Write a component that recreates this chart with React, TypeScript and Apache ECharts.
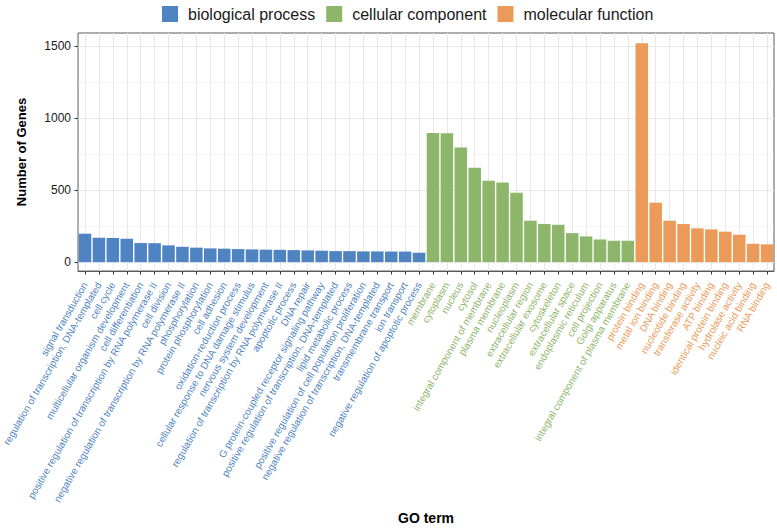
import React, { useEffect, useRef } from "react";
import * as echarts from "echarts";

const bpTerms = [
  "signal transduction",
  "regulation of transcription, DNA-templated",
  "cell cycle",
  "multicellular organism development",
  "cell differentiation",
  "positive regulation of transcription by RNA polymerase II",
  "cell division",
  "negative regulation of transcription by RNA polymerase II",
  "phosphorylation",
  "protein phosphorylation",
  "cell adhesion",
  "oxidation-reduction process",
  "cellular response to DNA damage stimulus",
  "nervous system development",
  "regulation of transcription by RNA polymerase II",
  "apoptotic process",
  "DNA repair",
  "G protein-coupled receptor signaling pathway",
  "positive regulation of transcription, DNA-templated",
  "lipid metabolic process",
  "positive regulation of cell population proliferation",
  "negative regulation of transcription, DNA-templated",
  "transmembrane transport",
  "ion transport",
  "negative regulation of apoptotic process",
];
const bpCounts = [197, 169, 167, 162, 132, 131, 116, 106, 100, 95, 93, 90, 88, 86, 85, 83, 81, 79, 76, 76, 74, 74, 73, 73, 65];

const ccTerms = [
  "membrane",
  "cytoplasm",
  "nucleus",
  "cytosol",
  "integral component of membrane",
  "plasma membrane",
  "nucleoplasm",
  "extracellular region",
  "extracellular exosome",
  "cytoskeleton",
  "extracellular space",
  "endoplasmic reticulum",
  "cell projection",
  "Golgi apparatus",
  "integral component of plasma membrane",
];
const ccCounts = [896, 895, 796, 655, 565, 553, 481, 287, 264, 259, 201, 178, 157, 148, 148];

const mfTerms = [
  "protein binding",
  "metal ion binding",
  "DNA binding",
  "nucleotide binding",
  "transferase activity",
  "ATP binding",
  "identical protein binding",
  "hydrolase activity",
  "nucleic acid binding",
  "RNA binding",
];
const mfCounts = [1518, 412, 287, 264, 234, 227, 211, 190, 127, 123];

const groupNames = ["biological process", "cellular component", "molecular function"];
const groupColors = ["#4F84C2", "#8DB66A", "#EC9A59"];

const yTicks = [0, 500, 1000, 1500];
const yMinorTicks = [250, 750, 1250];

const FONT = "Liberation Sans, Arial, sans-serif";

export default function App() {
  const ref = useRef<HTMLDivElement>(null);

  useEffect(() => {
    if (!ref.current) return;
    const chart = echarts.init(ref.current, undefined, { renderer: "svg" });

    const categories = [...bpTerms, ...ccTerms, ...mfTerms];
    const groupOf = [
      ...bpTerms.map(() => 0),
      ...ccTerms.map(() => 1),
      ...mfTerms.map(() => 2),
    ];
    const groupData = [bpCounts, ccCounts, mfCounts];
    const offsets = [0, bpTerms.length, bpTerms.length + ccTerms.length];

    const barSeries = groupNames.map((name, g) => {
      const data: (number | string)[] = categories.map(() => "-");
      groupData[g].forEach((v, i) => {
        data[offsets[g] + i] = v;
      });
      return {
        name,
        type: "bar",
        stack: "all",
        data,
        barCategoryGap: "10%",
        itemStyle: { color: groupColors[g] },
        z: 5,
      };
    });

    const gridLine = { color: "#E8E8E8", width: 1, type: "solid" };
    const minorLine = { color: "#F2F2F2", width: 0.6, type: "solid" };

    const option: any = {
      animation: false,
      textStyle: { fontFamily: FONT },
      legend: {
        data: groupNames,
        top: 1,
        left: 157,
        itemWidth: 16,
        itemHeight: 16,
        itemGap: 11,
        icon: "rect",
        textStyle: { fontSize: 16, color: "#1a1a1a", fontFamily: FONT, padding: [0, 0, 0, 5] },
      },
      grid: {
        left: 77,
        right: 3,
        top: 33,
        bottom: 261,
        show: true,
        borderColor: "#5a5a5a",
        borderWidth: 1,
        backgroundColor: "transparent",
      },
      xAxis: {
        type: "category",
        data: categories,
        boundaryGap: true,
        name: "GO term",
        nameLocation: "middle",
        nameGap: 240,
        nameTextStyle: { fontSize: 14, fontWeight: "bold", color: "#000", fontFamily: FONT },
        axisLine: { show: true, onZero: false, lineStyle: { color: "#5a5a5a", width: 1 } },
        axisTick: { show: true, alignWithLabel: true, interval: 0, length: 3.5, lineStyle: { color: "#333" } },
        axisLabel: {
          interval: 0,
          rotate: 60,
          fontSize: 10,
          margin: 12,
          fontFamily: FONT,
          color: (_v: string, idx: number) => groupColors[groupOf[idx]],
        },
        splitLine: { show: false },
      },
      yAxis: {
        type: "value",
        min: -62,
        max: 1590,
        name: "Number of Genes",
        nameLocation: "middle",
        nameGap: 50,
        nameTextStyle: { fontSize: 13, fontWeight: "bold", color: "#000", fontFamily: FONT },
        axisLine: { show: false },
        axisTick: { show: true, customValues: yTicks, length: 3.5, lineStyle: { color: "#333" } },
        axisLabel: {
          customValues: yTicks,
          fontSize: 12,
          color: "#1a1a1a",
          margin: 7,
          fontFamily: FONT,
          formatter: (v: number) => String(v),
        },
        splitLine: { show: false },
      },
      series: [
        {
          name: "grid-lines",
          type: "line",
          data: categories.map(() => null),
          symbol: "none",
          silent: true,
          z: 1,
          markLine: {
            silent: true,
            z: 1,
            symbol: ["none", "none"],
            label: { show: false },
            animation: false,
            data: [
              ...yMinorTicks.map((v) => ({ yAxis: v, lineStyle: minorLine })),
              ...yTicks.map((v) => ({ yAxis: v, lineStyle: gridLine })),
              ...categories.map((c) => ({ xAxis: c, lineStyle: gridLine })),
            ],
          },
        },
        ...barSeries,
      ],
    };

    chart.setOption(option);
    return () => chart.dispose();
  }, []);

  return (
    <div
      ref={ref}
      style={{ position: "absolute", left: 0, top: 0, width: 777, height: 532, background: "#fff" }}
    />
  );
}
